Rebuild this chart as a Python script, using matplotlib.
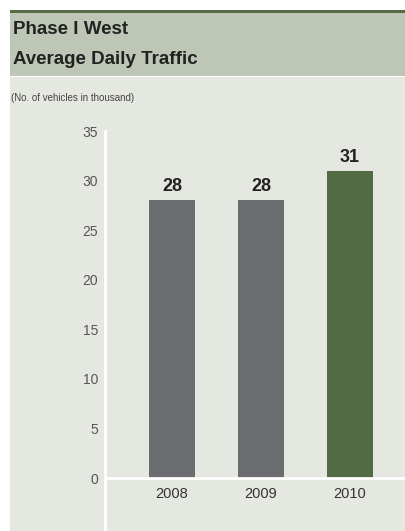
import matplotlib
matplotlib.use('Agg')
import matplotlib.pyplot as plt
from matplotlib.patches import Rectangle

years = ['2008', '2009', '2010']
traffic = [28, 28, 31]
bar_colors = ['#6b6c70', '#6b6c70', '#536b45']
yticks = [0, 5, 10, 15, 20, 25, 30, 35]

title_lines = ['Phase I West', 'Average Daily Traffic']
subtitle = '(No. of vehicles in thousand)'

plt.rcParams['font.family'] = ['Liberation Sans Narrow', 'Liberation Sans', 'DejaVu Sans']

W, H = 406, 531
fig = plt.figure(figsize=(W / 100, H / 100), dpi=100)
fig.patch.set_facecolor('white')

def px_rect(x0, y0, x1, y1, color):
    # rectangle in pixel coords (top-left origin)
    fig.patches.append(Rectangle((x0 / W, 1 - y1 / H), (x1 - x0) / W, (y1 - y0) / H,
                                 transform=fig.transFigure, facecolor=color,
                                 edgecolor='none', zorder=-5))

px_rect(10, 77, W, H, '#e5e8e1')     # body
px_rect(10, 13, W, 76, '#bec6b6')    # header band
px_rect(10, 10, W, 13, '#566c47')    # top rule

for i, line in enumerate(title_lines):
    fig.text(13 / W, 1 - (29 + 30 * i) / H, line, ha='left', va='center',
             fontsize=13.5, fontweight='bold', color='#222222')
fig.text(11 / W, 1 - 98 / H, subtitle, ha='left', va='center', fontsize=7,
         color='#444444')

ax = fig.add_axes([105 / W, 0, 1 - 105 / W, (H - 131) / H])
ax.set_facecolor('none')
x = list(range(len(years)))
ax.bar(x, traffic, width=0.52, color=bar_colors, zorder=2)
for xi, v in zip(x, traffic):
    ax.text(xi, v + 0.5, str(v), ha='center', va='bottom', fontsize=13,
            fontweight='bold', color='#222222')
for xi, yr in zip(x, years):
    ax.text(xi, -1.6, yr, ha='center', va='center', fontsize=10.5,
            color='#333333')

ax.set_xlim(-0.753, 2.63)
ax.set_ylim(-5.34, 35)
ax.set_yticks(yticks)
ax.set_yticklabels([str(t) for t in yticks], fontsize=10, color='#555555')
ax.set_xticks([])
ax.tick_params(axis='both', length=0)
ax.tick_params(axis='y', pad=5)
for s in ['top', 'right', 'bottom']:
    ax.spines[s].set_visible(False)
ax.spines['left'].set_color('white')
ax.spines['left'].set_linewidth(2)
ax.axhline(0, color='white', linewidth=2, zorder=3)

fig.savefig('out.png', dpi=100)
